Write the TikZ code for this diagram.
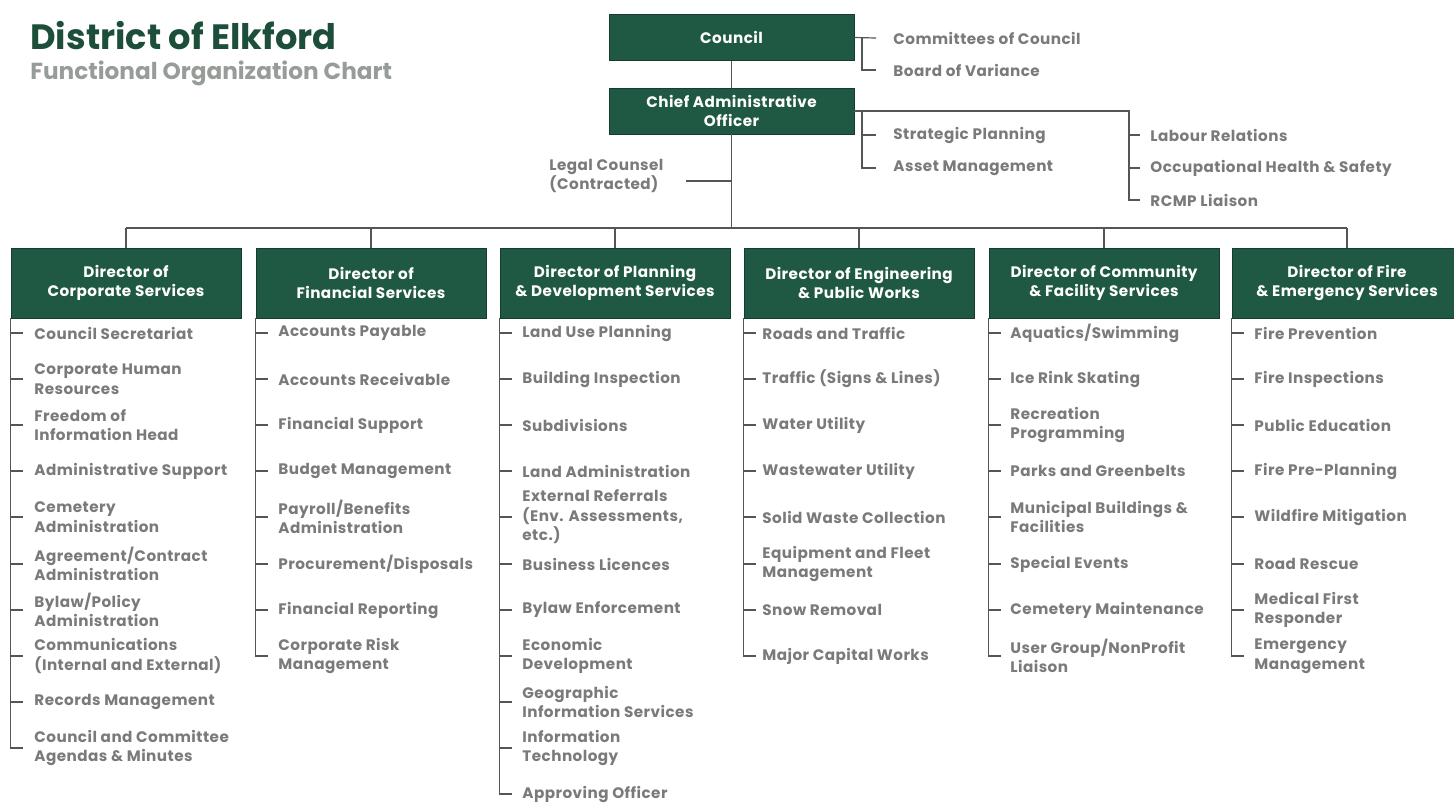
\documentclass[tikz,border=0pt]{standalone}
\usepackage{fontspec}
\setmainfont{Poppins}[LetterSpace=3]
\newfontfamily\elktitlefont{Poppins}
\usepackage{tikz}

\definecolor{elkgreen}{RGB}{31,89,68}
\definecolor{elkdark}{RGB}{22,60,46}
\definecolor{elktitle}{RGB}{28,78,58}
\definecolor{elkgray}{RGB}{122,122,122}
\definecolor{elksub}{RGB}{150,156,152}
\definecolor{elkline}{RGB}{85,85,85}
\newcommand{\elkitemfont}{\bfseries\fontsize{7.6}{9.75}\selectfont}

\begin{document}
\begin{tikzpicture}[x=0.5pt,y=0.5pt,yscale=-1,xscale=1,
  topbox/.style={draw=elkdark,fill=elkgreen,text=white,minimum width=122.5pt,minimum height=23pt,inner sep=0pt,align=center,font=\elkitemfont},
  dirbox/.style={draw=elkdark,fill=elkgreen,text=white,minimum width=115pt,minimum height=35pt,inner sep=0pt,align=center,font=\elkitemfont},
  item/.style={anchor=west,inner sep=0pt,text=elkgray,align=left,font=\elkitemfont},
  link/.style={draw=elkline,line width=0.6pt}]
\useasboundingbox (0,0) rectangle (1454,805);

% Text Node
\draw (30,36) node [anchor=west][inner sep=0pt,text=elktitle,font=\elktitlefont\bfseries\fontsize{17.6}{19}\selectfont] (ttl) {District of Elkford};
% Text Node
\draw (30,73) node [anchor=west][inner sep=0pt,text=elksub,font=\elktitlefont\bfseries\fontsize{11.6}{13}\selectfont] (sub) {Functional Organization Chart};

%Shape: Rectangle
\node [topbox] (council) at (731.5,37.5) {Council};
\node [topbox] (cao) at (731.5,111) {Chief Administrative\\Officer};

% Council side
\node [item] (cmt) at (893,38) {Committees of Council};
\node [item] (bov) at (893,70) {Board of Variance};
\draw [link] (council.east) -- (cmt.west -| 876,0);
\draw [link] (council.east -| 862,0) -- (bov.west -| 862,0) -- (bov.west -| 876,0);

% CAO side
\node [item] (stp) at (893,135) {Strategic Planning};
\node [item] (asm) at (893,168) {Asset Management};
\node [item] (lab) at (1150,135) {Labour Relations};
\node [item] (ohs) at (1150,168) {Occupational Health \& Safety};
\node [item] (rcmp) at (1150,200) {RCMP Liaison};
\node [item] (legal) at (549,176) {Legal Counsel\\(Contracted)};
\coordinate (bus) at (731.5,228);
\draw [link] (cao.east) -- (cao.east -| 1129,0) -- (rcmp.west -| 1129,0) -- (rcmp.west -| 1140,0);
\draw [link] (lab.west -| 1129,0) -- (lab.west -| 1140,0);
\draw [link] (ohs.west -| 1129,0) -- (ohs.west -| 1140,0);
\draw [link] (cao.east -| 862,0) -- (asm.west -| 862,0) -- (asm.west -| 876,0);
\draw [link] (stp.west -| 862,0) -- (stp.west -| 876,0);
\draw [link] (council.south) -- (cao.north);
\draw [link] (cao.south) -- (bus);
\draw [link] (686,181) -- (cao.south |- 0,181);

%Shape: Rectangle
\node [dirbox] (d1) at (126,283) {Director of\\Corporate Services};
\node [dirbox] (d2) at (371,283) {Director of\\Financial Services};
\node [dirbox] (d3) at (615,283) {Director of Planning\\\& Development Services};
\node [dirbox] (d4) at (859,283) {Director of Engineering\\\& Public Works};
\node [dirbox] (d5) at (1104,283) {Director of Community\\\& Facility Services};
\node [dirbox] (d6) at (1347,283) {Director of Fire\\\& Emergency Services};
\draw [link] (d1.north |- bus) -- (d6.north |- bus);
\draw [link] (d1.north |- bus) -- (d1.north);
\draw [link] (d2.north |- bus) -- (d2.north);
\draw [link] (d3.north |- bus) -- (d3.north);
\draw [link] (d4.north |- bus) -- (d4.north);
\draw [link] (d5.north |- bus) -- (d5.north);
\draw [link] (d6.north |- bus) -- (d6.north);

% Corporate Services
\node [item] (cs1) at (34,333) {Council Secretariat};
\node [item] (cs2) at (34,379) {Corporate Human\\Resources};
\node [item] (cs3) at (34,425) {Freedom of\\Information Head};
\node [item] (cs4) at (34,471) {Administrative Support};
\node [item] (cs5) at (34,517) {Cemetery\\Administration};
\node [item] (cs6) at (34,564) {Agreement/Contract\\Administration};
\node [item] (cs7) at (34,610) {Bylaw/Policy\\Administration};
\node [item] (cs8) at (34,656) {Communications\\(Internal and External)};
\node [item] (cs9) at (34,702) {Records Management};
\node [item] (cs10) at (34,748) {Council and Committee\\Agendas \& Minutes};
\draw [link] (d1.south west) -- (d1.south west |- cs10.west) -- ++(12,0);
\draw [link] (d1.south west |- cs1.west) -- ++(12,0);
\draw [link] (d1.south west |- cs2.west) -- ++(12,0);
\draw [link] (d1.south west |- cs3.west) -- ++(12,0);
\draw [link] (d1.south west |- cs4.west) -- ++(12,0);
\draw [link] (d1.south west |- cs5.west) -- ++(12,0);
\draw [link] (d1.south west |- cs6.west) -- ++(12,0);
\draw [link] (d1.south west |- cs7.west) -- ++(12,0);
\draw [link] (d1.south west |- cs8.west) -- ++(12,0);
\draw [link] (d1.south west |- cs9.west) -- ++(12,0);

% Financial Services
\node [item] (fs1) at (278,333) {Accounts Payable};
\node [item] (fs2) at (278,379) {Accounts Receivable};
\node [item] (fs3) at (278,425) {Financial Support};
\node [item] (fs4) at (278,471) {Budget Management};
\node [item] (fs5) at (278,517) {Payroll/Benefits\\Administration};
\node [item] (fs6) at (278,564) {Procurement/Disposals};
\node [item] (fs7) at (278,610) {Financial Reporting};
\node [item] (fs8) at (278,656) {Corporate Risk\\Management};
\draw [link] (d2.south west) -- (d2.south west |- fs8.west) -- ++(12,0);
\draw [link] (d2.south west |- fs1.west) -- ++(12,0);
\draw [link] (d2.south west |- fs2.west) -- ++(12,0);
\draw [link] (d2.south west |- fs3.west) -- ++(12,0);
\draw [link] (d2.south west |- fs4.west) -- ++(12,0);
\draw [link] (d2.south west |- fs5.west) -- ++(12,0);
\draw [link] (d2.south west |- fs6.west) -- ++(12,0);
\draw [link] (d2.south west |- fs7.west) -- ++(12,0);

% Planning & Development Services
\node [item] (pd1) at (522,333) {Land Use Planning};
\node [item] (pd2) at (522,379) {Building Inspection};
\node [item] (pd3) at (522,425) {Subdivisions};
\node [item] (pd4) at (522,471) {Land Administration};
\node [item] (pd5) at (522,517) {External Referrals\\(Env. Assessments,\\etc.)};
\node [item] (pd6) at (522,564) {Business Licences};
\node [item] (pd7) at (522,610) {Bylaw Enforcement};
\node [item] (pd8) at (522,656) {Economic\\Development};
\node [item] (pd9) at (522,702) {Geographic\\Information Services};
\node [item] (pd10) at (522,748) {Information\\Technology};
\node [item] (pd11) at (522,794) {Approving Officer};
\draw [link] (d3.south west) -- (d3.south west |- pd11.west) -- ++(12,0);
\draw [link] (d3.south west |- pd1.west) -- ++(12,0);
\draw [link] (d3.south west |- pd2.west) -- ++(12,0);
\draw [link] (d3.south west |- pd3.west) -- ++(12,0);
\draw [link] (d3.south west |- pd4.west) -- ++(12,0);
\draw [link] (d3.south west |- pd5.west) -- ++(12,0);
\draw [link] (d3.south west |- pd6.west) -- ++(12,0);
\draw [link] (d3.south west |- pd7.west) -- ++(12,0);
\draw [link] (d3.south west |- pd8.west) -- ++(12,0);
\draw [link] (d3.south west |- pd9.west) -- ++(12,0);
\draw [link] (d3.south west |- pd10.west) -- ++(12,0);

% Engineering & Public Works
\node [item] (ew1) at (762,333) {Roads and Traffic};
\node [item] (ew2) at (762,379) {Traffic (Signs \& Lines)};
\node [item] (ew3) at (762,425) {Water Utility};
\node [item] (ew4) at (762,471) {Wastewater Utility};
\node [item] (ew5) at (762,517) {Solid Waste Collection};
\node [item] (ew6) at (762,564) {Equipment and Fleet\\Management};
\node [item] (ew7) at (762,610) {Snow Removal};
\node [item] (ew8) at (762,656) {Major Capital Works};
\draw [link] (d4.south west) -- (d4.south west |- ew8.west) -- ++(12,0);
\draw [link] (d4.south west |- ew1.west) -- ++(12,0);
\draw [link] (d4.south west |- ew2.west) -- ++(12,0);
\draw [link] (d4.south west |- ew3.west) -- ++(12,0);
\draw [link] (d4.south west |- ew4.west) -- ++(12,0);
\draw [link] (d4.south west |- ew5.west) -- ++(12,0);
\draw [link] (d4.south west |- ew6.west) -- ++(12,0);
\draw [link] (d4.south west |- ew7.west) -- ++(12,0);

% Community & Facility Services
\node [item] (cf1) at (1010,333) {Aquatics/Swimming};
\node [item] (cf2) at (1010,379) {Ice Rink Skating};
\node [item] (cf3) at (1010,425) {Recreation\\Programming};
\node [item] (cf4) at (1010,471) {Parks and Greenbelts};
\node [item] (cf5) at (1010,517) {Municipal Buildings \&\\Facilities};
\node [item] (cf6) at (1010,564) {Special Events};
\node [item] (cf7) at (1010,610) {Cemetery Maintenance};
\node [item] (cf8) at (1010,656) {User Group/NonProfit\\Liaison};
\draw [link] (d5.south west) -- (d5.south west |- cf8.west) -- ++(12,0);
\draw [link] (d5.south west |- cf1.west) -- ++(12,0);
\draw [link] (d5.south west |- cf2.west) -- ++(12,0);
\draw [link] (d5.south west |- cf3.west) -- ++(12,0);
\draw [link] (d5.south west |- cf4.west) -- ++(12,0);
\draw [link] (d5.south west |- cf5.west) -- ++(12,0);
\draw [link] (d5.south west |- cf6.west) -- ++(12,0);
\draw [link] (d5.south west |- cf7.west) -- ++(12,0);

% Fire & Emergency Services
\node [item] (fe1) at (1254,333) {Fire Prevention};
\node [item] (fe2) at (1254,379) {Fire Inspections};
\node [item] (fe3) at (1254,425) {Public Education};
\node [item] (fe4) at (1254,471) {Fire Pre-Planning};
\node [item] (fe5) at (1254,517) {Wildfire Mitigation};
\node [item] (fe6) at (1254,564) {Road Rescue};
\node [item] (fe7) at (1254,610) {Medical First\\Responder};
\node [item] (fe8) at (1254,656) {Emergency\\Management};
\draw [link] (d6.south west) -- (d6.south west |- fe8.west) -- ++(12,0);
\draw [link] (d6.south west |- fe1.west) -- ++(12,0);
\draw [link] (d6.south west |- fe2.west) -- ++(12,0);
\draw [link] (d6.south west |- fe3.west) -- ++(12,0);
\draw [link] (d6.south west |- fe4.west) -- ++(12,0);
\draw [link] (d6.south west |- fe5.west) -- ++(12,0);
\draw [link] (d6.south west |- fe6.west) -- ++(12,0);
\draw [link] (d6.south west |- fe7.west) -- ++(12,0);

\end{tikzpicture}
\end{document}
